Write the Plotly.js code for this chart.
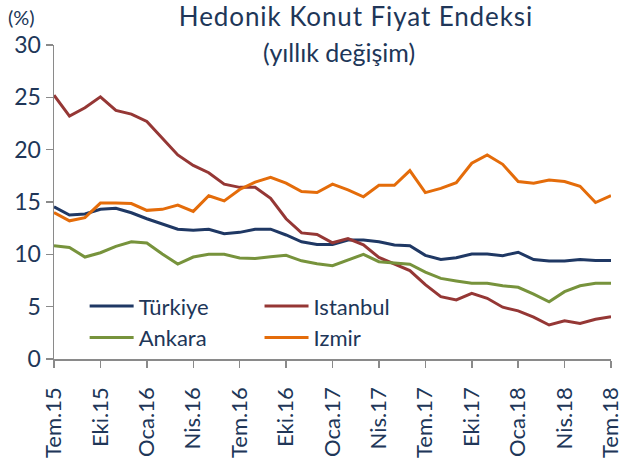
<!DOCTYPE html>
<html>
<head>
<meta charset="utf-8">
<script src="https://cdn.plot.ly/plotly-3.0.1.min.js"></script>
<style>
  html, body { margin: 0; padding: 0; background: #fff; }
  #chart { width: 622px; height: 464px; }
  g.annotation[data-index="0"] text { letter-spacing: 0.9px; }
</style>
</head>
<body>
<div id="chart"></div>
<script>
// Monthly, Tem.15 (Jul 2015) .. Tem.18 (Jul 2018)
const monthIndex = Array.from({length: 37}, (_, i) => i);
const tickPositions = [0, 3, 6, 9, 12, 15, 18, 21, 24, 27, 30, 33, 36];
const tickLabels = ["Tem.15","Eki.15","Oca.16","Nis.16","Tem.16","Eki.16","Oca.17","Nis.17","Tem.17","Eki.17","Oca.18","Nis.18","Tem.18"];

const turkiye = [14.55,13.75,13.85,14.3,14.4,13.97,13.4,12.9,12.4,12.3,12.4,11.97,12.1,12.4,12.4,11.85,11.2,10.95,10.95,11.37,11.37,11.2,10.9,10.82,9.9,9.5,9.68,10.03,10.03,9.87,10.2,9.5,9.36,9.36,9.5,9.4,9.4];
const istanbul = [25.2,23.2,24.0,25.05,23.75,23.4,22.7,21.1,19.5,18.5,17.8,16.7,16.4,16.4,15.35,13.4,12.05,11.9,11.1,11.5,10.9,9.7,9.05,8.45,7.1,5.95,5.65,6.27,5.8,4.95,4.6,4.0,3.25,3.65,3.4,3.8,4.05];
const ankara = [10.82,10.66,9.74,10.15,10.76,11.2,11.08,10.03,9.07,9.74,10.0,10.0,9.65,9.6,9.77,9.9,9.38,9.1,8.91,9.46,10.0,9.3,9.17,9.05,8.3,7.7,7.45,7.23,7.23,7.0,6.85,6.2,5.47,6.43,7.0,7.23,7.23];
const izmir = [14.0,13.2,13.5,14.9,14.9,14.85,14.2,14.3,14.7,14.1,15.6,15.1,16.2,16.9,17.35,16.8,16.0,15.9,16.7,16.15,15.5,16.6,16.6,18.0,15.9,16.3,16.85,18.7,19.5,18.6,16.95,16.8,17.1,16.95,16.5,14.95,15.6];

const seriesNames = ["Türkiye", "Istanbul", "Ankara", "Izmir"];
const seriesColors = ["#1F3864", "#953735", "#77933C", "#E46C0A"];

const FONT = "Lato, 'Open Sans', sans-serif";
const TXT = "#203658";
const AX = "#8a8a8a";

function tr(name, y, color, legendId) {
  return {
    x: monthIndex, y: y, name: name, type: "scatter", mode: "lines",
    line: {color: color, width: 3}, legend: legendId, hoverinfo: "skip"
  };
}

const data = [
  tr(seriesNames[0], turkiye, seriesColors[0], "legend"),
  tr(seriesNames[1], istanbul, seriesColors[1], "legend2"),
  tr(seriesNames[2], ankara, seriesColors[2], "legend"),
  tr(seriesNames[3], izmir, seriesColors[3], "legend2")
];

const legendCommon = {
  orientation: "v", xanchor: "left", yanchor: "top",
  bgcolor: "rgba(0,0,0,0)", borderwidth: 0,
  font: {family: FONT, size: 22, color: TXT},
  itemwidth: 44, tracegroupgap: 0, traceorder: "normal"
};

const layout = {
  width: 622, height: 464,
  margin: {l: 54, r: 11, t: 45, b: 105},
  paper_bgcolor: "#fff", plot_bgcolor: "#fff",
  font: {family: FONT, size: 22, color: TXT},
  showlegend: true,
  legend: Object.assign({}, legendCommon, {x: 0.055, y: 0.235}),
  legend2: Object.assign({}, legendCommon, {x: 0.369, y: 0.235}),
  xaxis: {
    range: [0, 36], tickmode: "array", tickvals: tickPositions, ticktext: tickLabels,
    tickangle: -90, ticks: "outside", ticklen: 7, tickcolor: AX, tickwidth: 1.5,
    showline: true, linecolor: AX, linewidth: 1.5, showgrid: false, zeroline: false,
    ticklabeloverflow: "allow", ticklabelstandoff: 11,
    tickfont: {family: FONT, size: 22, color: TXT}, fixedrange: true
  },
  yaxis: {
    range: [0, 30], dtick: 5, ticks: "outside", ticklen: 7, tickcolor: AX, tickwidth: 1.5,
    showline: true, linecolor: AX, linewidth: 1.5, showgrid: false, zeroline: false,
    tickfont: {family: FONT, size: 23, color: TXT}, fixedrange: true
  },
  annotations: [
    {text: "Hedonik Konut Fiyat Endeksi", xref: "paper", yref: "paper",
     x: 0.543, y: 1.0, yshift: 29, xanchor: "center", yanchor: "middle", showarrow: false,
     font: {family: FONT, size: 26, color: TXT}},
    {text: "(yıllık değişim)", xref: "paper", yref: "paper",
     x: 0.511, y: 1.0, yshift: -7, xanchor: "center", yanchor: "middle", showarrow: false,
     font: {family: FONT, size: 25, color: TXT}},
    {text: "(%)", xref: "paper", yref: "paper",
     x: -0.087, y: 1.0, yshift: 28, xanchor: "left", yanchor: "middle", showarrow: false,
     font: {family: FONT, size: 20, color: TXT}}
  ]
};

Plotly.newPlot("chart", data, layout, {displayModeBar: false, staticPlot: true});
</script>
</body>
</html>
